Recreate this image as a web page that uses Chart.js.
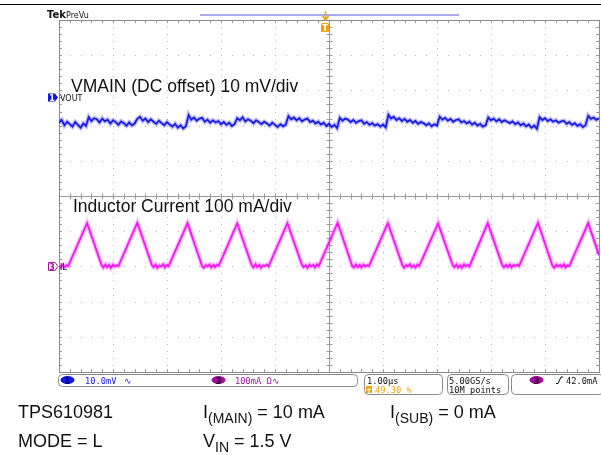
<!DOCTYPE html>
<html>
<head>
<meta charset="utf-8">
<script src="https://cdn.jsdelivr.net/npm/chart.js@4"></script>
<style>
  body { margin: 0; background: #fff; }
  #wrap { position: relative; width: 601px; height: 455px; overflow: hidden; }
  canvas { position: absolute; left: 0; top: 0; }
  .note { position: absolute; font: 18px/18px 'Liberation Sans', Arial, sans-serif; color: #111; white-space: pre; }
  .note sub { font-size: 14px; vertical-align: -5px; line-height: 0; }
</style>
</head>
<body>
<div id="wrap">
  <canvas id="scope" width="601" height="455"></canvas>
  <div class="note" style="left:18px;top:403px">TPS610981</div>
  <div class="note" style="left:18px;top:432px">MODE = L</div>
  <div class="note" style="left:203px;top:403px">I<sub>(MAIN)</sub> = 10 mA</div>
  <div class="note" style="left:203px;top:432px">V<sub>IN</sub> = 1.5 V</div>
  <div class="note" style="left:390px;top:403px">I<sub>(SUB)</sub> = 0 mA</div>
</div>
<script>
// horizontal: 1.00 us/div, 10 div on screen
const timeMin = 0
const timeMax = 10
// ch1 VOUT, 10 mV/div (DC offset), ch3 IL, 100 mA/div
const voutRange = [-78, 22]
const ilRange = [-300, 700]

// VOUT ripple in mV, one sample every 0.05 us
const voutStep = 0.05
const vout = [
  -7.2, -6.4, -7.9, -6.9, -7.6, -8.3, -7.0, -7.8, -8.6, -7.4, -8.1,
  -5.6, -6.7, -5.9, -6.2, -7.1, -6.0, -6.8, -6.3, -7.4, -6.5, -7.0, -7.8, -6.8, -7.3, -8.0, -7.1, -7.9, -7.4,
  -6.1, -5.5, -6.6, -6.0, -7.0, -6.2, -6.9, -7.5, -6.6, -7.3, -7.9, -7.0, -7.7, -8.3, -7.5, -8.6, -7.9, -8.8, -8.2,
  -5.0, -6.3, -5.7, -6.6, -6.0, -5.8, -6.9, -6.3, -7.2, -6.5, -7.1, -6.7, -7.6, -7.0, -7.8, -7.2, -8.1, -7.6,
  -5.9, -6.5, -5.6, -6.8, -6.2, -6.6, -7.3, -6.5, -7.0, -7.6, -6.9, -7.4, -8.0, -7.2, -7.8, -8.4, -7.6, -8.2, -7.7,
  -5.3, -6.2, -5.7, -6.5, -5.9, -6.8, -6.3, -6.0, -7.0, -6.6, -7.4, -6.9, -7.7, -7.2, -8.1, -7.5, -8.4, -7.8, -8.7,
  -5.8, -6.6, -6.0, -6.3, -7.0, -6.4, -7.2, -6.7, -6.5, -7.5, -7.0, -7.8, -7.3, -8.0, -7.6, -8.3, -7.7, -8.5,
  -4.9, -6.0, -5.5, -6.4, -5.9, -6.7, -6.1, -6.9, -6.4, -7.2, -6.7, -7.5, -7.0, -7.3, -7.9, -7.4, -8.2, -7.6, -8.0,
  -5.5, -6.3, -5.8, -6.6, -6.1, -6.9, -6.4, -6.2, -7.1, -6.7, -7.4, -6.9, -7.7, -7.2, -8.0, -7.5, -8.3, -7.9,
  -5.7, -6.5, -6.0, -6.8, -6.2, -7.0, -6.5, -6.9, -7.3, -6.8, -7.6, -7.1, -7.9, -7.4, -8.2, -7.7, -8.6, -8.0, -8.9,
  -5.6, -6.4, -5.9, -6.7, -6.2, -6.9, -6.5, -7.2, -6.8, -6.6, -7.5, -7.0, -7.8, -7.3, -8.1, -7.6, -8.4, -7.9,
  -5.2, -6.1, -5.7, -6.4, -5.9
]

// inductor current corners (us, mA): flat DCM bottom, ramp up, peak, ramp down
const ilTime = [
  0.00, 0.03, 0.07, 0.10, 0.14, 0.17, 0.52,
  0.79, 0.82, 0.86, 0.89, 0.93, 0.96, 1.00, 1.03, 1.07, 1.10, 1.45,
  1.72, 1.75, 1.79, 1.82, 1.86, 1.89, 1.93, 1.96, 2.00, 2.03, 2.38,
  2.65, 2.68, 2.72, 2.75, 2.79, 2.82, 2.86, 2.89, 2.93, 2.96, 3.30,
  3.57, 3.60, 3.64, 3.67, 3.71, 3.74, 3.78, 3.81, 3.85, 3.88, 4.23,
  4.50, 4.53, 4.57, 4.60, 4.64, 4.67, 4.71, 4.74, 4.78, 4.81, 5.16,
  5.43, 5.46, 5.50, 5.53, 5.57, 5.60, 5.64, 5.67, 5.71, 5.74, 6.09,
  6.36, 6.39, 6.43, 6.46, 6.50, 6.53, 6.57, 6.60, 6.64, 6.67, 7.02,
  7.29, 7.32, 7.36, 7.39, 7.43, 7.46, 7.50, 7.53, 7.57, 7.60, 7.94,
  8.21, 8.24, 8.28, 8.31, 8.35, 8.38, 8.42, 8.45, 8.49, 8.52, 8.87,
  9.14, 9.17, 9.21, 9.24, 9.28, 9.31, 9.35, 9.38, 9.42, 9.45, 9.80,
  10.00
]
const ilCurrent = [
  1, -3, 4, -2, 3, 1, 123,
  3, -3, 5, -2, 4, -4, 5, 0, 3, 1, 124,
  4, -2, 5, -4, 3, 0, 6, -3, 4, 1, 123,
  1, -4, 4, 0, 5, -3, 4, -2, 5, 2, 122,
  3, -3, 6, -2, 4, -4, 3, 1, 5, 0, 123,
  4, -2, 3, -4, 5, 0, 4, -3, 6, 1, 124,
  1, -3, 5, -2, 4, -3, 5, 0, 3, 1, 123,
  3, -4, 4, 0, 6, -2, 3, -3, 5, 1, 122,
  4, -2, 5, -3, 3, -4, 6, 0, 4, 0, 123,
  3, -3, 4, -2, 5, -3, 4, 1, 5, 1, 124,
  1, -4, 5, 0, 4, -2, 6, -3, 3, 1, 123,
  32
]

const BLUE = '#1414e6'
const PINK = '#f514f5'
const PURPLE = '#a0109c'
const ORANGE = '#f0a010'

function txt(ctx, s, x, y, font, color, align) {
  ctx.font = font
  ctx.fillStyle = color
  ctx.textAlign = align || 'left'
  ctx.textBaseline = 'alphabetic'
  ctx.fillText(s, x, y)
}

function roundBox(ctx, x, y, w, h, r) {
  ctx.beginPath()
  ctx.roundRect(x + 0.5, y + 0.5, w, h, r)
  ctx.strokeStyle = '#8a8a8a'
  ctx.lineWidth = 1
  ctx.stroke()
}

function chip(ctx, cx, cy, fill, label, color) {
  ctx.beginPath()
  ctx.ellipse(cx, cy, 7, 4, 0, 0, Math.PI * 2)
  ctx.fillStyle = fill
  ctx.fill()
  txt(ctx, label, cx, cy + 3.5, 'bold 9px "DejaVu Sans"', color, 'center')
}

// Tek style graticule: dotted divisions, solid centre cross, ticks every 0.2 div
const graticule = {
  id: 'graticule',
  beforeDatasetsDraw(chart) {
    const ctx = chart.ctx
    const { left, top, right, bottom } = chart.chartArea
    const dx = (right - left) / 10
    const dy = (bottom - top) / 10
    ctx.save()
    ctx.fillStyle = '#b4b4b4'
    for (let i = 1; i < 10; i++) {
      if (i === 5) continue
      const x = Math.round(left + i * dx)
      for (let j = 0; j <= 50; j++) ctx.fillRect(x, Math.round(top + j * dy / 5), 1, 1)
      const y = Math.round(top + i * dy)
      for (let j = 0; j <= 50; j++) ctx.fillRect(Math.round(left + j * dx / 5), y, 1, 1)
    }
    const cx = Math.round(left + 5 * dx) + 0.5
    const cy = Math.round(top + 5 * dy) + 0.5
    ctx.strokeStyle = '#9a9a9a'
    ctx.lineWidth = 1
    ctx.beginPath()
    ctx.moveTo(cx, top); ctx.lineTo(cx, bottom)
    ctx.moveTo(left, cy); ctx.lineTo(right, cy)
    for (let j = 1; j < 50; j++) {
      const x = Math.round(left + j * dx / 5) + 0.5
      const y = Math.round(top + j * dy / 5) + 0.5
      ctx.moveTo(x, cy - 3); ctx.lineTo(x, cy + 3)
      ctx.moveTo(cx - 3, y); ctx.lineTo(cx + 3, y)
      ctx.moveTo(x, top); ctx.lineTo(x, top + 3)
      ctx.moveTo(x, bottom); ctx.lineTo(x, bottom - 3)
      ctx.moveTo(left, y); ctx.lineTo(left + 3, y)
      ctx.moveTo(right, y); ctx.lineTo(right - 3, y)
    }
    ctx.stroke()
    ctx.strokeStyle = '#8a8a8a'
    ctx.strokeRect(Math.round(left) + 0.5, Math.round(top) + 0.5, Math.round(right - left), Math.round(bottom - top))
    ctx.restore()
  },
  afterDraw(chart) {
    const ctx = chart.ctx
    const { left, right } = chart.chartArea
    const yV = chart.scales.yV
    const yI = chart.scales.yI
    ctx.save()

    // header rule, record view bar, Tek PreVu
    ctx.fillStyle = '#000'
    ctx.fillRect(0, 4, 601, 1)
    ctx.fillStyle = '#aaaaf0'
    ctx.fillRect(200, 14, 259, 2)
    txt(ctx, 'Tek', 47, 18, 'bold 10px "DejaVu Sans"', '#111')
    txt(ctx, 'PreVu', 66, 18, '8px "DejaVu Sans"', '#111')

    // trigger position marker (49.30 %)
    const tx = Math.round(left + (right - left) * 0.493) + 0.5
    ctx.strokeStyle = ORANGE
    ctx.lineWidth = 1.5
    ctx.beginPath()
    ctx.moveTo(tx, 11); ctx.lineTo(tx, 19)
    ctx.moveTo(tx - 3, 16); ctx.lineTo(tx, 20); ctx.lineTo(tx + 3, 16)
    ctx.stroke()
    ctx.fillStyle = ORANGE
    ctx.beginPath()
    ctx.roundRect(tx - 4.5, 23, 8, 9, 1.5)
    ctx.fill()
    txt(ctx, 'T', tx - 0.5, 30.5, 'bold 8px "DejaVu Sans"', '#fff', 'center')

    // channel ground markers
    const g1 = yV.getPixelForValue(0)
    ctx.fillStyle = BLUE
    ctx.beginPath()
    ctx.moveTo(48, g1 - 4); ctx.lineTo(55, g1 - 4); ctx.lineTo(58, g1); ctx.lineTo(55, g1 + 4); ctx.lineTo(48, g1 + 4)
    ctx.closePath(); ctx.fill()
    txt(ctx, '1', 52, g1 + 3.5, 'bold 8px "DejaVu Sans"', '#fff', 'center')
    txt(ctx, 'VOUT', 60, g1 + 3.5, '8px "DejaVu Sans"', '#111')

    const g3 = yI.getPixelForValue(0)
    ctx.fillStyle = '#fff'
    ctx.strokeStyle = PURPLE
    ctx.lineWidth = 1
    ctx.beginPath()
    ctx.moveTo(48.5, g3 - 4); ctx.lineTo(55, g3 - 4); ctx.lineTo(58, g3); ctx.lineTo(55, g3 + 4); ctx.lineTo(48.5, g3 + 4)
    ctx.closePath(); ctx.fill(); ctx.stroke()
    txt(ctx, '3', 52, g3 + 3.5, 'bold 8px "DejaVu Sans"', PURPLE, 'center')
    txt(ctx, 'IL', 60, g3 + 3.5, '8px "DejaVu Sans"', '#111')

    // trace captions
    const cap = '17.5px "Liberation Sans", Arial, sans-serif'
    txt(ctx, 'VMAIN (DC offset) 10 mV/div', 71, 92, cap, '#111')
    txt(ctx, 'Inductor Current 100 mA/div', 73, 212, cap, '#111')

    // status bar
    const mono = '8.7px "DejaVu Sans Mono"'
    roundBox(ctx, 58, 374, 299, 12, 4)
    chip(ctx, 67.5, 380, BLUE, '1', '#0a0a50')
    txt(ctx, '10.0mV', 85, 383.5, mono, BLUE)
    txt(ctx, '\u223F', 124, 383.5, mono, BLUE)
    chip(ctx, 218.5, 380, PURPLE, '3', '#300030')
    txt(ctx, '100mA \u03A9\u223F', 235, 383.5, mono, PURPLE)

    roundBox(ctx, 364, 374, 78, 20, 4)
    txt(ctx, '1.00\u00B5s', 367, 383.5, mono, '#111')
    ctx.fillStyle = ORANGE
    ctx.fillRect(366, 386, 6, 7)
    txt(ctx, 'T', 369, 392.5, 'bold 6px "DejaVu Sans"', '#fff', 'center')
    txt(ctx, '49.30 %', 375, 393, mono, ORANGE)

    roundBox(ctx, 447, 374, 61, 20, 4)
    txt(ctx, '5.00GS/s', 449, 383.5, mono, '#111')
    txt(ctx, '10M points', 449, 393, mono, '#111')

    roundBox(ctx, 511, 374, 92, 20, 4)
    chip(ctx, 536.5, 380, PURPLE, '3', '#300030')
    ctx.strokeStyle = '#111'
    ctx.lineWidth = 1
    ctx.beginPath()
    ctx.moveTo(556, 383.5); ctx.lineTo(558, 383.5); ctx.lineTo(561, 377); ctx.lineTo(563, 377)
    ctx.stroke()
    txt(ctx, '42.0mA', 566, 383.5, mono, '#111')

    ctx.restore()
  }
}

const voutPoints = vout.map((v, i) => ({ x: i * voutStep, y: v }))
const ilPoints = ilTime.map((t, i) => ({ x: t, y: ilCurrent[i] }))

// each trace twice: a soft wide glow underneath, then the crisp line
function trace(label, data, axis, color, width) {
  return { label, data, yAxisID: axis, borderColor: color, borderWidth: width, pointRadius: 0, showLine: true, tension: 0 }
}

const ctx = document.getElementById('scope')
const config = {
  type: 'scatter',
  data: {
    datasets: [
      trace('VOUT glow', voutPoints, 'yV', 'rgba(40, 40, 235, 0.3)', 4.5),
      trace('VOUT', voutPoints, 'yV', BLUE, 1.8),
      trace('IL glow', ilPoints, 'yI', 'rgba(245, 30, 245, 0.3)', 4.5),
      trace('IL', ilPoints, 'yI', PINK, 1.8)
    ]
  },
  options: {
    responsive: false,
    animation: false,
    devicePixelRatio: 1,
    layout: { padding: { left: 59, top: 20, right: 2, bottom: 83 } },
    scales: {
      x: { type: 'linear', min: timeMin, max: timeMax, display: false },
      yV: { type: 'linear', min: voutRange[0], max: voutRange[1], display: false },
      yI: { type: 'linear', min: ilRange[0], max: ilRange[1], display: false }
    },
    plugins: {
      legend: { display: false },
      tooltip: { enabled: false }
    }
  },
  plugins: [graticule]
}
new Chart(ctx, config)
</script>
</body>
</html>
